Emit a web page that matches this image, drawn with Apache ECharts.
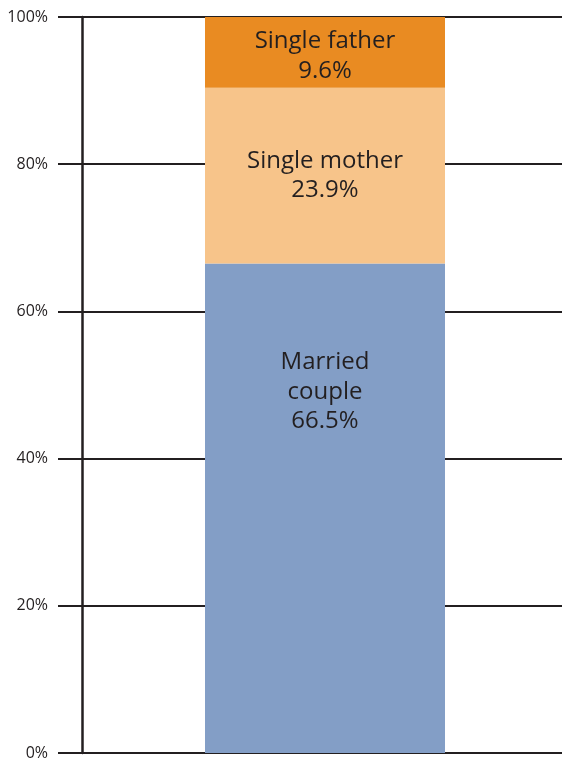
<!DOCTYPE html>
<html>
<head>
<meta charset="utf-8">
<script src="https://cdn.jsdelivr.net/npm/echarts@6/dist/echarts.min.js"></script>
<style>
html, body { margin: 0; padding: 0; background: #fff; }
#chart { width: 562px; height: 758px; }
</style>
</head>
<body>
<div id="chart"></div>
<script>
// household type shares, bottom to top
const categories = ['All']
const seriesNames = ['Married\ncouple', 'Single mother', 'Single father']
const seriesValues = [66.5, 23.9, 9.6]
const seriesColors = ['#839ec6', '#f7c48a', '#e98b22']
const yTicks = [0, 20, 40, 60, 80, 100]

const textColor = '#231f20'
const labelFont = '"Open Sans", sans-serif'

let series = seriesNames.map((name, i) => {
  return {
    name: name,
    type: 'bar',
    stack: 'total',
    barWidth: 240,
    data: [seriesValues[i]],
    itemStyle: { color: seriesColors[i] },
    label: {
      show: true,
      position: i === 0 ? ['50%', 84] : 'inside',
      offset: i === 2 ? [0, 4] : [0, 0],
      align: 'center',
      verticalAlign: i === 0 ? 'top' : 'middle',
      color: textColor,
      fontFamily: labelFont,
      fontSize: 24,
      lineHeight: 29.5,
      formatter: (p) => p.seriesName + '\n' + p.value.toFixed(1) + '%'
    }
  }
})

let option = {
  animation: false,
  grid: {
    left: 82,
    right: -6,
    top: 17,
    bottom: 5,
    outerBoundsMode: 'none'
  },
  xAxis: {
    type: 'category',
    data: categories,
    axisLine: { show: false },
    axisTick: { show: false },
    axisLabel: { show: false }
  },
  yAxis: {
    type: 'value',
    min: yTicks[0],
    max: yTicks[yTicks.length - 1],
    interval: 20,
    axisLine: { show: true, lineStyle: { color: textColor, width: 2.5 } },
    axisTick: { show: true, length: 24, lineStyle: { color: textColor, width: 2 } },
    axisLabel: {
      margin: 34,
      color: textColor,
      fontFamily: labelFont,
      fontSize: 16,
      formatter: '{value}%'
    },
    splitLine: { show: true, lineStyle: { color: textColor, width: 2 } }
  },
  series: series
}

let myChart = echarts.init(document.getElementById('chart'))
myChart.setOption(option)
</script>
</body>
</html>
